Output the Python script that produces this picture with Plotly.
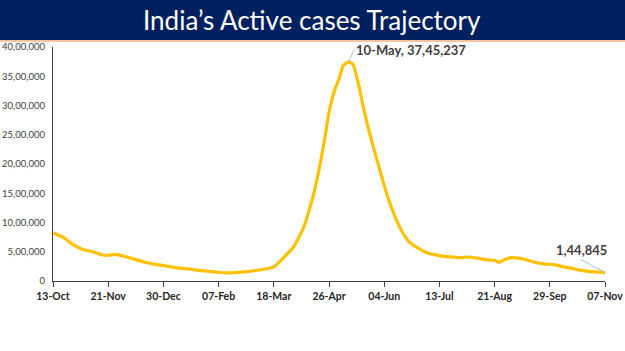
import plotly.graph_objects as go

dates = ["2020-10-13","2020-10-20","2020-10-27","2020-11-03","2020-11-10","2020-11-17","2020-11-21",
         "2020-11-26","2020-12-03","2020-12-10","2020-12-17","2020-12-24","2020-12-31","2021-01-07",
         "2021-01-14","2021-01-21","2021-01-28","2021-02-04","2021-02-11","2021-02-18","2021-02-25",
         "2021-03-04","2021-03-11","2021-03-18","2021-03-25","2021-04-01","2021-04-08","2021-04-15",
         "2021-04-22","2021-04-26","2021-04-30","2021-05-03","2021-05-06","2021-05-10","2021-05-13",
         "2021-05-17","2021-05-20","2021-05-24","2021-05-28","2021-06-01","2021-06-04","2021-06-08",
         "2021-06-12","2021-06-17","2021-06-22","2021-06-28","2021-07-04","2021-07-10","2021-07-16",
         "2021-07-22","2021-07-28","2021-08-03","2021-08-09","2021-08-16","2021-08-21","2021-08-24",
         "2021-08-29","2021-09-02","2021-09-07","2021-09-13","2021-09-20","2021-09-26","2021-10-02",
         "2021-10-08","2021-10-14","2021-10-20","2021-10-26","2021-11-01","2021-11-07"]
active = [826000,750000,625000,540000,500000,445000,440000,
          455000,420000,370000,320000,285000,260000,230000,
          215000,190000,173000,155000,140000,142000,155000,
          175000,200000,240000,400000,585000,910000,1470000,
          2290000,2880000,3270000,3450000,3680000,3745237,3700000,
          3350000,3000000,2590000,2230000,1890000,1635000,1330000,
          1080000,830000,660000,560000,485000,450000,420000,
          410000,400000,410000,390000,360000,355000,320000,
          375000,400000,390000,360000,310000,290000,280000,
          245000,220000,185000,165000,155000,144845]

tick_dates = ["2020-10-13","2020-11-21","2020-12-30","2021-02-07","2021-03-18","2021-04-26",
              "2021-06-04","2021-07-13","2021-08-21","2021-09-29","2021-11-07"]
tick_labels = ["13-Oct","21-Nov","30-Dec","07-Feb","18-Mar","26-Apr","04-Jun","13-Jul","21-Aug","29-Sep","07-Nov"]
y_ticks = [0,500000,1000000,1500000,2000000,2500000,3000000,3500000,4000000]
y_labels = ["0","5,00,000","10,00,000","15,00,000","20,00,000","25,00,000","30,00,000","35,00,000","40,00,000"]

title = "India’s Active cases Trajectory"
peak_label = "10-May, 37,45,237"
end_label = "1,44,845"

L, R, T, B = 53, 20, 47, 70
PW, PH = 625 - L - R, 351 - T - B

fig = go.Figure()
fig.add_trace(go.Scatter(x=dates, y=active, mode="lines",
                         line=dict(color="#FFC000", width=3.2, shape="spline", smoothing=0.5),
                         hoverinfo="skip"))

fig.update_layout(
    width=625, height=351,
    margin=dict(l=L, r=R, t=T, b=B),
    paper_bgcolor="white", plot_bgcolor="white",
    showlegend=False,
    font=dict(family="Lato, Carlito, sans-serif", color="#404040"),
)
fig.update_xaxes(
    type="date", range=["2020-10-13","2021-11-07"], automargin=False,
    tickvals=tick_dates, ticktext=["<b>" + t + "</b>" for t in tick_labels],
    tickfont=dict(size=10.5, color="#262626", family="Lato"),
    showgrid=False, zeroline=False,
    showline=True, linecolor="#404040", linewidth=1.3,
    ticks="outside", ticklen=5, tickcolor="#404040",
)
fig.update_yaxes(
    range=[0, 4000000], automargin=False,
    tickvals=y_ticks, ticktext=y_labels,
    tickfont=dict(size=9.5, color="#404040", family="Lato"),
    showgrid=False, zeroline=False,
    showline=True, linecolor="#404040", linewidth=1.3,
    ticks="", ticklabelstandoff=5,
)

# title bar
fig.add_shape(type="rect", xref="paper", yref="paper",
              x0=-L / PW, x1=1 + R / PW, y0=(351 - B - 40) / PH, y1=(351 - B) / PH + 0.5,
              fillcolor="#002060", line_width=0, layer="above")
fig.add_shape(type="line", xref="paper", yref="paper",
              x0=-L / PW, x1=1 + R / PW, y0=(351 - B - 41) / PH, y1=(351 - B - 41) / PH,
              line=dict(color="#F4B183", width=1.5), layer="above")
fig.add_annotation(text=title, xref="paper", yref="paper",
                   x=(312 - L) / PW, y=(351 - B - 20) / PH, showarrow=False,
                   font=dict(size=26, color="white", family="Lato"),
                   xanchor="center", yanchor="middle")

# peak label
fig.add_annotation(x="2021-05-10", y=3745237, text="<b>" + peak_label + "</b>",
                   showarrow=True, arrowhead=0, arrowcolor="#BFBFBF", arrowwidth=1,
                   ax=5, ay=-12, xanchor="left", yanchor="middle",
                   font=dict(size=13, color="#404040", family="Lato"))
# end label
fig.add_annotation(x="2021-11-07", y=144845, text="<b>" + end_label + "</b>",
                   showarrow=True, arrowhead=0, arrowcolor="#9DC3E6", arrowwidth=1,
                   ax=-24, ay=-13, xanchor="center", yanchor="bottom",
                   font=dict(size=13, color="#404040", family="Lato"))

fig.write_html("out.html")
